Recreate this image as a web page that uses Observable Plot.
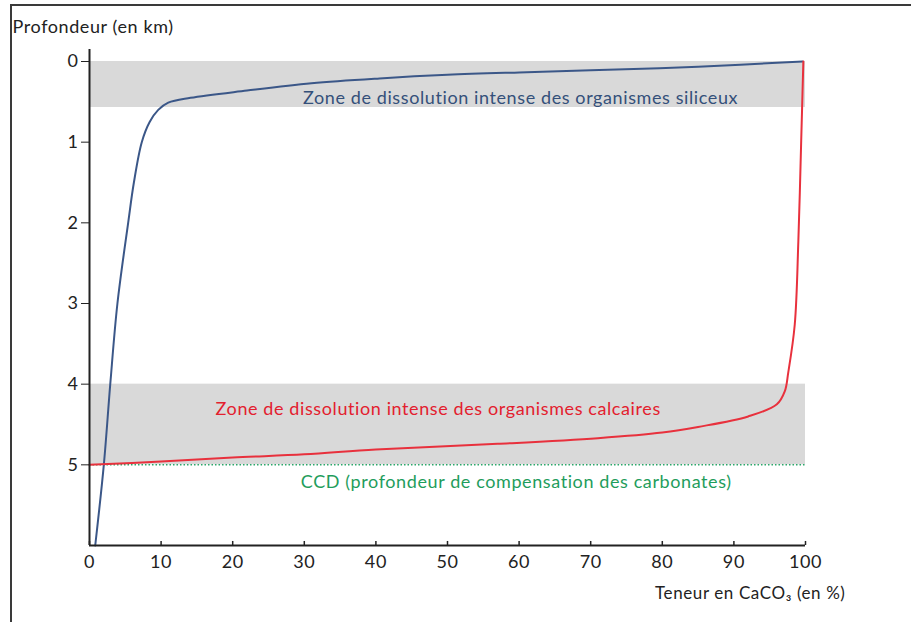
<!DOCTYPE html>
<html>
<head>
<meta charset="utf-8">
<script src="https://cdn.jsdelivr.net/npm/d3@7"></script>
<script src="https://cdn.jsdelivr.net/npm/@observablehq/plot@0.6"></script>
<style>
  html, body { margin: 0; padding: 0; background: #fff; }
  #wrap { position: relative; width: 911px; height: 622px; }
  #frame { position: absolute; left: 10px; top: 4px; width: 901px; height: 618px;
           border-top: 2px solid #3a3a3a; border-left: 2px solid #3a3a3a; box-sizing: border-box; pointer-events: none; }
</style>
</head>
<body>
<div id="wrap"><div id="frame"></div></div>
<script>
// Courbe bleue (organismes siliceux) : profondeur (km) / teneur CaCO3 (%)
const blueDepth = [6.0, 5.0, 4.0, 3.0, 2.0, 1.5, 1.0, 0.75, 0.6, 0.51, 0.45, 0.36, 0.27, 0.21, 0.165, 0.135, 0.11, 0.065, 0.0];
const bluePct   = [0.8, 2.0, 2.9, 3.9, 5.4, 6.2, 7.3, 8.4, 9.6, 11.0, 14.1, 22, 31, 40.5, 50, 60, 70, 85, 99.6];
// Courbe rouge (organismes calcaires)
const redPct   = [0, 10, 20, 30, 40, 57, 71, 80, 85, 92, 96, 97.1, 97.6, 98.5, 99.0, 99.4, 99.7];
const redDepth = [5.0, 4.96, 4.91, 4.87, 4.81, 4.74, 4.67, 4.6, 4.53, 4.40, 4.25, 4.09, 3.85, 3.26, 2.23, 0.98, 0.0];
// Zones grisées
const zoneTop = [0, 4];
const zoneBottom = [0.57, 5];
const ccdDepth = 5;
const xTicks = [0, 10, 20, 30, 40, 50, 60, 70, 80, 90, 100];
const yTicks = [0, 1, 2, 3, 4, 5];
const labels = [
  {text: "Zone de dissolution intense des organismes siliceux", x: 60.2, y: 0.45, color: "#34507a"},
  {text: "Zone de dissolution intense des organismes calcaires", x: 48.7, y: 4.31, color: "#e3202e"},
  {text: "CCD (profondeur de compensation des carbonates)", x: 59.6, y: 5.22, color: "#1f9d5c"}
];
const yLabel = "Profondeur (en km)";
const xLabel = "Teneur en CaCO₃ (en %)";

const blue = blueDepth.map((d, i) => ({x: bluePct[i], y: d}));
const red = redDepth.map((d, i) => ({x: redPct[i], y: d}));
const zones = zoneTop.map((t, i) => ({y1: t, y2: zoneBottom[i]}));

const chart = Plot.plot({
  width: 911,
  height: 622,
  marginLeft: 89,
  marginRight: 106,
  marginTop: 61,
  marginBottom: 77,
  style: {fontFamily: "Lato, 'Open Sans', sans-serif", fontSize: "18px", color: "#222", background: "transparent", letterSpacing: "0.6px"},
  x: {domain: [0, 100]},
  y: {domain: [0, 6], reverse: true},
  marks: [
    Plot.rect(zones, {x1: 0, x2: 100, y1: "y1", y2: "y2", fill: "#d9d9d9"}),
    Plot.ruleY([ccdDepth], {x1: 0, x2: 100, stroke: "#2aa86a", strokeWidth: 1.5, strokeDasharray: "1.5,2"}),
    Plot.line(blue, {x: "x", y: "y", stroke: "#3b5788", strokeWidth: 2, curve: "catmull-rom"}),
    Plot.line(red, {x: "x", y: "y", stroke: "#e8313d", strokeWidth: 2, curve: "catmull-rom"}),
    Plot.text(labels, {x: "x", y: "y", text: "text", fill: (d) => d.color, fontSize: 18, letterSpacing: "0.85px"}),
    Plot.axisY({ticks: yTicks, tickSize: 8, tickPadding: 3, tickFormat: d3.format("d"), label: null, fontSize: 18}),
    Plot.axisX({ticks: xTicks, tickSize: 0, tickPadding: 10, label: null, fontSize: 18}),
    Plot.ruleX([0], {y1: -0.15, y2: 6, stroke: "#222", strokeWidth: 2}),
    Plot.ruleY([6], {x1: 0, x2: 100, stroke: "#222", strokeWidth: 2}),
    Plot.ruleX(xTicks, {x: (d) => d, y1: 6, y2: 5.95, stroke: "#222", strokeWidth: 1.5}),
    Plot.text([yLabel], {frameAnchor: "top-left", textAnchor: "start", dx: -77, dy: -41, fontSize: 18, letterSpacing: "1.6px", fill: "#222"}),
    Plot.text([xLabel], {frameAnchor: "bottom-right", textAnchor: "end", dx: 40, dy: 53, fontSize: 17, letterSpacing: "0px", fill: "#222"})
  ]
});
document.getElementById("wrap").appendChild(chart);
chart.style.position = "absolute";
chart.style.left = "0px";
chart.style.top = "0px";
</script>
</body>
</html>
